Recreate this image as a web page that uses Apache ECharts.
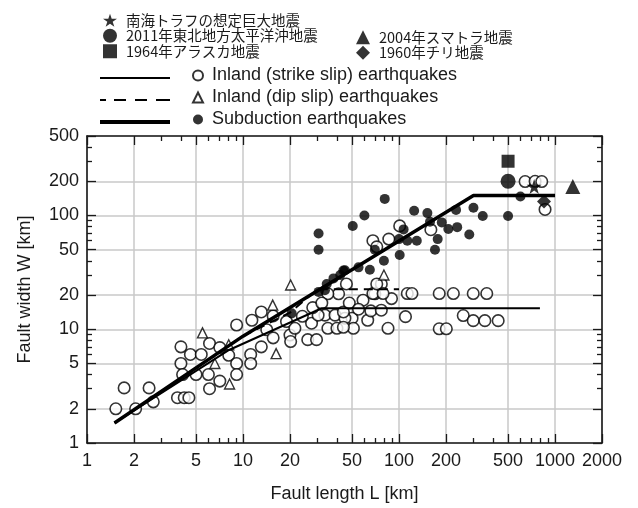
<!DOCTYPE html>
<html><head><meta charset="utf-8">
<script src="https://cdn.jsdelivr.net/npm/echarts@6/dist/echarts.min.js"></script>
<style>html,body{margin:0;padding:0;background:#fff}#c{width:638px;height:508px}</style>
</head><body><div id="c"></div>
<script>
// ---- data ----
const xMajorTicks = [1,2,5,10,20,50,100,200,500,1000,2000];
const xMinorTicks = [3,4,6,7,8,9,30,40,60,70,80,90,300,400,600,700,800,900];
const yMajorTicks = [1,2,5,10,20,50,100,200,500];
const yMinorTicks = [3,4,6,7,8,9,30,40,60,70,80,90,300,400];

const strikeL = [1.53,1.73,2.05,2.5,2.66,3.8,4.2,4.5,4.0,4.0,4.1,4.6,5.4,5.0,6.0,6.1,6.1,7.1,7.1,8.1,9.1,9.1,9.1,11.2,11.2,11.4,13.1,13.1,14.2,15.6,15.6,19.0,20,20.2,26,29.6,33.5,35,40,41,50,51,21.5,27.5,35,30.3,38.9,45,58.8,70,77,85,89.5,24,28,32,44,48,55,63,66,77,68,79,46,72,44,113,121,181,223,299,365,110,181,201,258,299,355,432,643,745,822,863,68,72,86,101,160];
const strikeW = [2.0,3.05,2.0,3.05,2.3,2.5,2.5,2.5,7.0,5.0,4.0,6.0,6.0,4.0,4.0,7.5,3.0,6.9,3.5,5.9,10.9,5.0,4.0,6.0,5.0,12.0,14.2,7.0,9.9,8.4,13.1,11.7,8.9,7.8,8.1,8.1,13.3,10.2,10.2,20.5,12.5,10.2,10.2,11.3,20.5,13.3,13.3,12.5,18,20.5,25,10.2,18.6,13,15.5,17,14.2,17,15,12,14.5,14.7,20.6,20.6,25,25,10.4,20.6,20.6,20.6,20.6,20.6,20.6,12.9,10.1,10.1,13.2,11.9,11.9,11.9,199,200,199,113,60,53,62,81,75];

const dipL = [5.5,6.6,8.2,8.1,15.5,16.3,20.2,80];
const dipW = [9.3,5.0,3.3,7.3,16.3,6.1,24.5,30];

const subL = [30.5,30.5,50.5,60,81,45,65,80,70,33.5,20.5,34.4,44,55,42,38,30.5,101,100,107,113,125,130,152,158,170,177,188,207,232,236,282,300,344,500,600];
const subW = [69.5,50,81,100,140,33,33.4,40,50,22,13.8,25,32.8,35,30,28,21.3,45,62,75.5,60,110,60,105,88,50,62,87,76,112,79,68,117,99,99,147];

const nankai = [735, 180];
const tohoku = [500, 200];
const alaska = [500, 300];
const sumatra = [1300, 180];
const chile = [850, 133];

const strikeLineL = [1.5, 8, 32, 800];
const strikeLineW = [1.5, 6.5, 15.3, 15.3];
const dipLineL = [10, 20, 30, 100];
const dipLineW = [8.7, 14, 22.5, 22.5];
const subLineL = [1.5, 10, 300, 1000];
const subLineW = [1.5, 8.7, 150, 150];

const names = {
  nankai: '南海トラフの想定巨大地震',
  tohoku: '2011年東北地方太平洋沖地震',
  alaska: '1964年アラスカ地震',
  sumatra: '2004年スマトラ地震',
  chile: '1960年チリ地震',
  strike: 'Inland (strike slip) earthquakes',
  dip: 'Inland (dip slip) earthquakes',
  sub: 'Subduction earthquakes',
  strikeLine: 'strikeLine', dipLine: 'dipLine', subLine: 'subLine'
};

// ---- chart ----
const pair = (a, b) => a.map((v, i) => [v, b[i]]);
const EN = 'Liberation Sans, Arial, Helvetica, sans-serif';
const JP = 'Noto Sans CJK JP, sans-serif';
const INK = '#000';
const STAR = 'path://M50,0 L61.8,35.1 L98.8,35.1 L68.8,56.9 L80.2,91.9 L50,70.3 L19.8,91.9 L31.2,56.9 L1.2,35.1 L38.2,35.1 Z';
const DASH_ICON = 'path://M0,0h6v2h-6z M14,0h12v2h-12z M35,0h12v2h-12z M56,0h14v2h-14z';

function xAx(pos, major, withLabel) {
  return {
    type: 'log', logBase: 10, min: 1, max: 2000, position: pos, gridIndex: 0,
    axisLine: { show: major, lineStyle: { color: '#1a1a1a', width: 1.6 } },
    axisTick: { show: true, inside: true, length: major ? 9 : 5, customValues: major ? xMajorTicks : xMinorTicks, lineStyle: { color: '#1a1a1a', width: 1.3 } },
    axisLabel: withLabel ? { show: true, customValues: xMajorTicks, fontSize: 18, fontFamily: EN, color: '#1a1a1a', margin: 9, formatter: v => String(Math.round(v)) } : { show: false },
    splitLine: { show: withLabel, lineStyle: { color: '#c8c8c8', width: 1.5 } },
    minorTick: { show: false }, minorSplitLine: { show: false },
    name: withLabel ? 'Fault length L [km]' : '', nameLocation: 'middle', nameGap: 42,
    nameTextStyle: { fontSize: 18, fontFamily: EN, color: '#1a1a1a' }
  };
}
function yAx(pos, major, withLabel) {
  return {
    type: 'log', logBase: 10, min: 1, max: 500, position: pos, gridIndex: 0,
    axisLine: { show: major, lineStyle: { color: '#1a1a1a', width: 1.6 } },
    axisTick: { show: true, inside: true, length: major ? 9 : 5, customValues: major ? yMajorTicks : yMinorTicks, lineStyle: { color: '#1a1a1a', width: 1.3 } },
    axisLabel: withLabel ? { show: true, customValues: yMajorTicks, fontSize: 18, fontFamily: EN, color: '#1a1a1a', margin: 8, formatter: v => String(Math.round(v)) } : { show: false },
    splitLine: { show: withLabel, lineStyle: { color: '#c8c8c8', width: 1.5 } },
    minorTick: { show: false }, minorSplitLine: { show: false },
    name: withLabel ? 'Fault width W [km]' : '', nameLocation: 'middle', nameGap: 53, nameRotate: 90,
    nameTextStyle: { fontSize: 18, fontFamily: EN, color: '#1a1a1a' }
  };
}
function lineLegend(name, top, h, icon) {
  return { orient: 'vertical', left: 95, top: top, itemWidth: 70, itemHeight: h, itemGap: 0,
    formatter: () => '', textStyle: { fontSize: 1 }, selectedMode: false,
    data: [{ name: name, icon: icon, itemStyle: { color: '#000', borderWidth: 0 } }] };
}

const chart = echarts.init(document.getElementById('c'), null, { renderer: 'canvas' });
chart.setOption({
  animation: false,
  backgroundColor: '#fff',
  grid: { left: 87, right: 36, top: 136, bottom: 62, containLabel: false },
  xAxis: [xAx('bottom', true, true), xAx('bottom', false, false), xAx('top', true, false), xAx('top', false, false)],
  yAxis: [yAx('left', true, true), yAx('left', false, false), yAx('right', true, false), yAx('right', false, false)],
  legend: [
    { orient: 'vertical', left: 98, top: 8, itemWidth: 14, itemHeight: 14, itemGap: 1,
      textStyle: { fontSize: 14.5, fontFamily: JP, color: '#1a1a1a', padding: [0, 0, 0, 4] },
      data: [names.nankai, names.tohoku, names.alaska] },
    { orient: 'vertical', left: 351, top: 25, itemWidth: 14, itemHeight: 14, itemGap: 1,
      textStyle: { fontSize: 14.5, fontFamily: JP, color: '#1a1a1a', padding: [0, 0, 0, 4] },
      data: [names.sumatra, names.chile] },
    lineLegend(names.strikeLine, 72, 2, 'rect'),
    lineLegend(names.dipLine, 94, 2, DASH_ICON),
    lineLegend(names.subLine, 115, 4, 'rect'),
    { orient: 'vertical', left: 187, top: 61, itemWidth: 10, itemHeight: 10, itemGap: 3,
      textStyle: { fontSize: 18, lineHeight: 19, fontFamily: EN, color: '#1a1a1a', padding: [0, 0, 0, 4] },
      data: [names.strike, names.dip, names.sub] }
  ],
  series: [
    { name: names.strike, type: 'scatter', symbol: 'circle', symbolSize: 11.5, z: 2,
      itemStyle: { color: '#fff', borderColor: INK, borderWidth: 1.6 }, data: pair(strikeL, strikeW) },
    { name: names.dip, type: 'scatter', symbol: 'triangle', symbolSize: 10, z: 2,
      itemStyle: { color: '#fff', borderColor: INK, borderWidth: 1.4 }, data: pair(dipL, dipW) },
    { name: names.strikeLine, type: 'line', symbol: 'none', z: 3, lineStyle: { color: INK, width: 2 }, itemStyle: { color: INK },
      data: pair(strikeLineL, strikeLineW) },
    { name: names.dipLine, type: 'line', symbol: 'none', z: 3, lineStyle: { color: INK, width: 2, type: [9, 6] }, itemStyle: { color: INK },
      data: pair(dipLineL, dipLineW) },
    { name: names.subLine, type: 'line', symbol: 'none', z: 3, lineStyle: { color: INK, width: 3.5 }, itemStyle: { color: INK },
      data: pair(subLineL, subLineW) },
    { name: names.sub, type: 'scatter', symbol: 'circle', symbolSize: 10, z: 4,
      itemStyle: { color: INK }, data: pair(subL, subW) },
    { name: names.nankai, type: 'scatter', symbol: STAR, symbolSize: 15, z: 5, itemStyle: { color: INK }, data: [nankai] },
    { name: names.tohoku, type: 'scatter', symbol: 'circle', symbolSize: 15, z: 5, itemStyle: { color: INK }, data: [tohoku] },
    { name: names.alaska, type: 'scatter', symbol: 'rect', symbolSize: 13, z: 5, itemStyle: { color: INK }, data: [alaska] },
    { name: names.sumatra, type: 'scatter', symbol: 'triangle', symbolSize: 15, z: 5, itemStyle: { color: INK }, data: [sumatra] },
    { name: names.chile, type: 'scatter', symbol: 'diamond', symbolSize: 14, z: 5, itemStyle: { color: INK }, data: [chile] }
  ]
});
</script></body></html>
